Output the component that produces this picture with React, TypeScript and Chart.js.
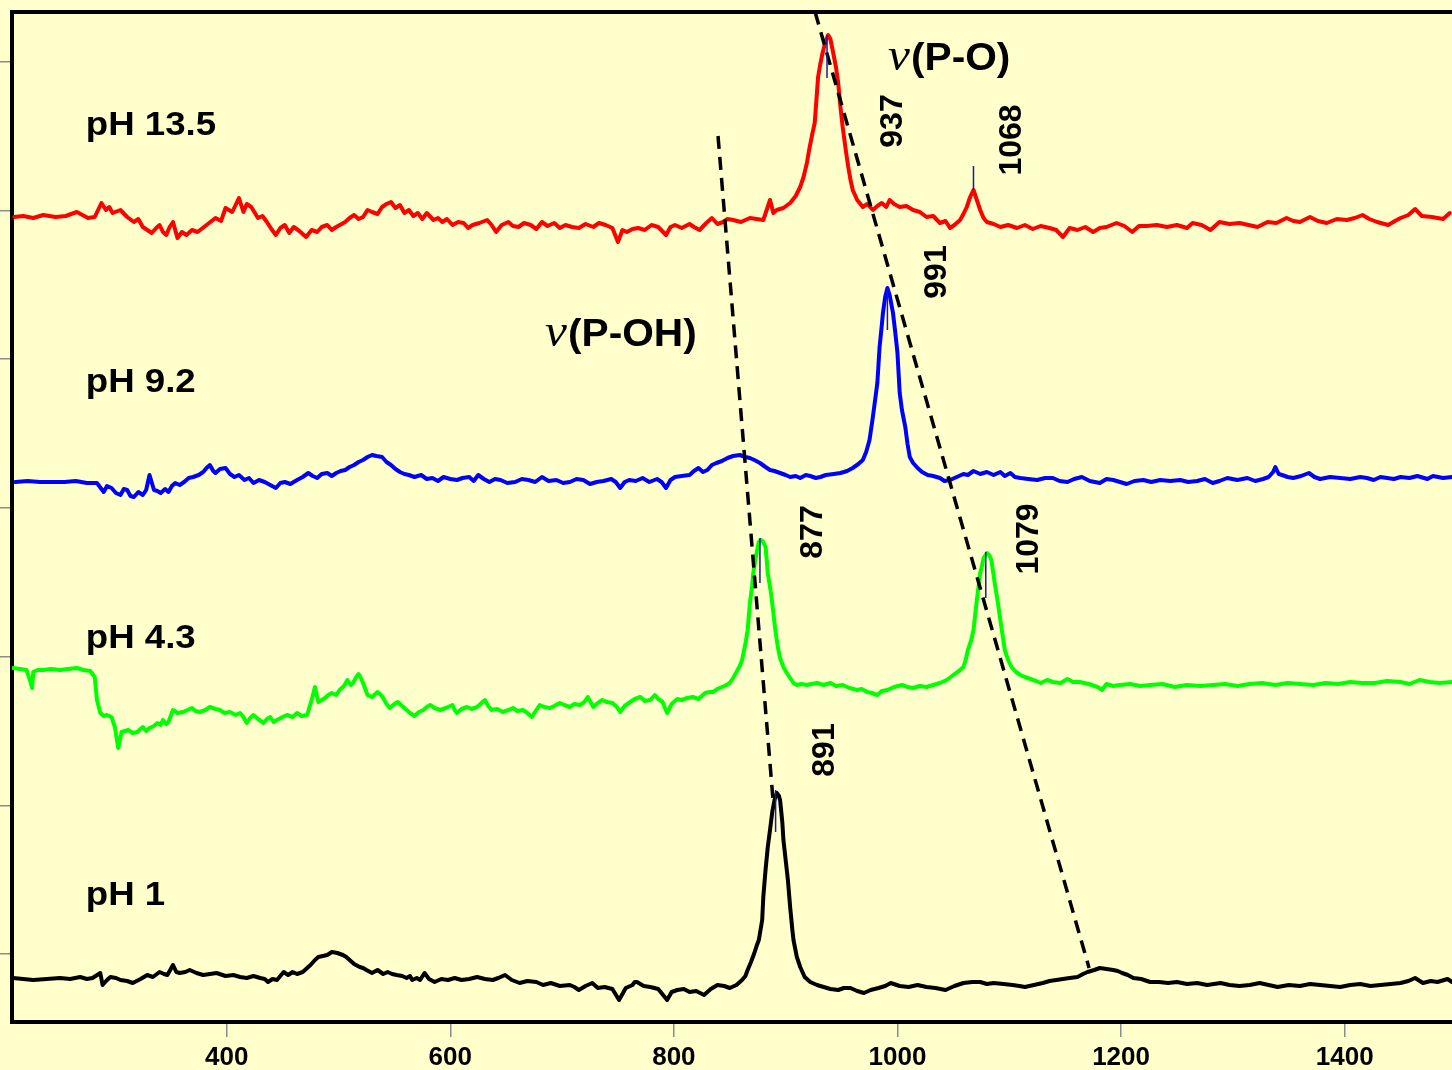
import React, { useEffect, useRef } from "react";
import { Chart, registerables } from "chart.js";

Chart.register(...registerables);

// Raman shift (cm-1) vs. intensity (arbitrary, stacked traces)
const spectrumPH135: [number, number][] = [
  [210,805],[218,806],[227,804],[236,807],[247,805],[256,806],[266,810],[276,804],[282,805],[288,819],[292,812],[295,815],[298,809],[305,812],
  [311,805],[317,800],[321,803],[325,795],[329,792],[333,789],[337,794],[340,797],[343,790],[346,787],[349,795],[352,800],[356,784],[360,790],[364,787],[369,792],[374,790],
  [382,797],[390,804],[395,801],[399,814],[405,810],[411,824],[415,810],[418,818],[422,815],[428,804],[432,806],[436,800],[440,793],[444,787],
  [448,794],[452,797],[456,789],[460,795],[465,791],[471,785],[476,792],[481,790],[485,795],[490,797],[494,792],[498,795],[506,800],[510,804],[514,807],[518,803],[522,805],[526,812],[530,810],
  [535,808],[539,815],[543,818],[547,820],[551,814],[555,817],[559,809],[563,812],[567,806],[571,809],[575,803],[579,809],[585,802],[589,804],[593,800],[597,803],[602,797],[607,800],[612,799],
  [616,794],[620,797],[626,799],[633,802],[637,797],[641,790],[646,797],[652,800],[656,796],[661,795],[666,799],[672,797],[677,793],[682,800],[687,796],[693,799],[698,794],[703,797],[709,795],[715,794],
  [721,798],[728,795],[733,799],[739,797],[745,794],[750,780],[754,792],[758,790],[763,793],[768,794],[774,792],[780,797],[786,795],[793,787],[797,795],[801,797],[807,794],[814,798],[818,795],[823,792],
  [829,799],[834,804],[839,798],[844,800],[848,803],[853,802],[860,800],[868,804],[874,803],[880,802],[886,822],[889,809],[892,812],[898,814],[904,819],[909,826],[913,835],[916,845],[919,859],
  [921,872],[924,889],[926,899],[929,945],[931,958],[933,969],[936,982],[938,987],[940,983],[942,972],[945,955],[947,939],[949,915],[951,895],[954,870],[956,855],[958,842],[960,832],
  [964,822],[969,815],[973,818],[978,812],[982,816],[986,819],[990,815],[993,822],[997,818],[1002,815],[1008,816],[1014,812],[1020,810],[1026,805],[1032,806],[1038,799],[1043,801],[1047,794],[1051,797],[1056,802],
  [1059,808],[1062,815],[1065,825],[1068,832],[1071,822],[1074,812],[1077,804],[1080,800],[1086,798],[1092,795],[1099,797],[1107,794],[1114,797],[1121,793],[1128,796],[1136,794],[1142,792],[1148,785],[1154,794],[1161,792],
  [1168,795],[1175,790],[1181,794],[1187,795],[1196,799],[1203,796],[1210,790],[1216,796],[1223,796],[1232,797],[1241,795],[1250,797],[1259,794],[1264,799],[1272,797],[1280,792],[1288,800],
  [1297,798],[1306,799],[1314,797],[1322,795],[1331,800],[1339,799],[1348,804],[1354,801],[1360,800],[1369,805],[1376,801],[1384,799],[1393,803],[1402,802],[1409,804],[1416,807],[1422,803],[1429,800],
  [1439,797],[1445,801],[1450,804],[1457,807],[1463,813],[1469,806],[1478,805],[1488,803],[1494,809]
];

const spectrumPH92: [number, number][] = [
  [211,540],[222,541],[233,540],[244,540],[255,540],[265,541],[275,539],[284,539],[290,530],[293,536],[297,534],[301,529],[305,527],[308,533],[311,532],[314,526],[317,525],[321,530],[325,527],[328,532],
  [331,547],[335,532],[338,531],[341,529],[345,533],[348,530],[351,536],[354,539],[358,537],[362,540],[366,544],[370,545],[375,547],[379,550],[382,554],[385,557],[388,551],[390,549],
  [394,553],[399,554],[403,548],[407,545],[411,547],[416,542],[420,544],[424,539],[429,542],[434,540],[439,537],[444,534],[448,539],[452,540],[457,538],[463,542],[468,545],[473,549],[477,546],[481,544],
  [485,548],[490,549],[494,546],[498,549],[502,551],[506,552],[510,555],[514,557],[518,560],[522,562],[526,565],[530,567],[534,566],[539,565],[543,560],[547,557],[551,553],[555,550],[559,548],[563,547],
  [568,545],[574,547],[579,543],[584,544],[589,541],[594,545],[600,543],[606,542],[611,544],[617,545],[621,541],[625,547],[630,543],[635,540],[640,543],[645,542],[651,539],[658,540],[664,543],[670,542],
  [676,540],[682,545],[688,541],[695,542],[701,539],[707,540],[713,543],[719,542],[725,538],[731,540],[737,541],[744,543],[748,540],[752,534],[756,540],[760,542],[766,541],[772,544],[778,540],[785,543],
  [789,540],[793,534],[797,542],[801,545],[807,546],[814,547],[818,551],[822,554],[826,550],[830,552],[834,557],[838,559],[843,561],[848,564],[853,566],[859,567],[864,565],[868,564],[872,562],[877,559],
  [882,555],[886,552],[890,551],[895,549],[900,547],[904,545],[909,546],[913,544],[918,547],[922,546],[927,544],[931,545],[936,547],[943,548],[949,549],[955,551],[960,554],[965,558],[969,562],[972,570],[975,582],
  [978,605],[980,622],[982,639],[984,675],[986,697],[987,709],[989,725],[991,734],[993,727],[996,709],[998,690],[1000,669],[1002,629],[1004,612],[1007,595],[1009,578],[1011,565],[1014,559],
  [1018,554],[1022,550],[1027,547],[1032,546],[1038,544],[1042,541],[1047,542],[1053,545],[1059,548],[1063,547],[1068,551],[1074,548],[1080,550],[1086,547],[1092,550],[1096,546],[1101,549],[1105,545],[1110,544],
  [1117,543],[1125,542],[1132,544],[1139,544],[1145,541],[1152,540],[1158,543],[1165,545],[1172,541],[1181,539],[1187,543],[1193,542],[1199,540],[1205,538],[1212,541],[1220,542],[1227,540],[1235,542],[1244,541],[1253,542],
  [1260,540],[1268,541],[1275,543],[1282,539],[1288,541],[1295,544],[1304,542],[1313,544],[1320,541],[1327,543],[1332,545],[1336,550],[1338,555],[1341,548],[1344,547],[1349,545],[1354,544],[1361,546],[1368,549],[1373,545],[1378,543],
  [1387,545],[1396,544],[1405,543],[1414,545],[1420,544],[1426,542],[1432,545],[1438,544],[1444,543],[1450,545],[1458,544],[1465,546],[1474,543],[1479,546],[1488,544],[1496,545]
];

const spectrumPH43: [number, number][] = [
  [209,354],[215,353],[221,352],[224,342],[226,334],[227,350],[231,352],[236,352],[243,353],[251,352],[258,353],[266,354],[272,352],[278,351],[282,345],
  [284,322],[287,309],[290,306],[293,307],[297,305],[300,295],[303,274],[306,290],[309,291],[312,292],[316,289],[320,290],[323,293],[325,295],
  [328,291],[331,294],[335,296],[338,299],[341,297],[343,302],[346,298],[348,300],[352,312],[356,309],[361,310],[365,312],[369,314],[372,311],[376,310],[381,312],[385,315],[390,313],[394,312],
  [398,309],[403,310],[408,307],[412,309],[415,305],[418,299],[421,304],[424,307],[428,303],[433,299],[436,303],[439,305],[442,300],[445,302],[450,305],[454,307],[459,305],[463,309],[467,306],[472,307],
  [476,322],[479,335],[482,320],[485,322],[488,324],[491,327],[494,329],[498,327],[501,332],[505,336],[508,342],[511,337],[513,339],[516,345],[518,348],[520,344],[522,339],
  [524,333],[526,327],[530,325],[535,330],[538,327],[540,324],[543,318],[546,314],[550,318],[553,320],[557,316],[561,312],[564,309],[568,306],[572,310],[576,312],[579,315],[582,317],[586,314],[591,312],
  [596,314],[602,317],[604,312],[606,309],[610,313],[615,315],[619,313],[624,315],[628,319],[631,322],[634,316],[637,312],[642,313],[647,310],[652,312],[656,314],[660,311],[665,312],[669,309],[673,305],
  [677,312],[680,317],[684,315],[689,314],[693,316],[698,319],[702,317],[707,315],[711,318],[716,317],[720,320],[723,325],[726,319],[728,315],[732,319],[736,322],[740,320],[745,319],[749,315],[752,310],
  [756,316],[761,320],[765,323],[770,325],[774,321],[779,322],[783,327],[786,323],[790,320],[792,314],[794,309],[798,318],[803,323],[807,322],[812,324],[817,325],[822,323],[825,326],[828,329],
  [832,330],[835,330],[839,333],[843,335],[847,337],[850,339],[853,344],[856,350],[859,356],[861,362],[864,378],[866,392],[868,419],[870,436],[871,449],[873,463],[875,475],[876,480],[878,482],
  [880,480],[882,475],[883,463],[884,449],[887,428],[889,409],[891,390],[893,375],[895,364],[898,355],[901,349],[904,344],[907,339],[910,337],[914,338],[919,337],[923,338],[928,339],[934,337],[940,339],
  [945,336],[951,337],[957,334],[964,332],[968,333],[973,330],[977,329],[982,327],[986,331],[991,332],[997,335],[1004,337],[1009,335],[1014,334],[1020,336],[1026,335],[1032,337],[1038,339],[1044,342],[1050,347],
  [1055,351],[1059,355],[1061,362],[1063,372],[1066,382],[1068,392],[1071,422],[1074,449],[1076,458],[1077,464],[1080,469],[1082,467],[1084,462],[1087,439],[1090,418],[1092,402],
  [1096,372],[1099,362],[1102,355],[1106,350],[1110,347],[1114,345],[1119,343],[1124,341],[1128,339],[1134,342],[1139,340],[1146,339],[1152,343],[1157,340],[1163,340],[1171,338],[1179,335],[1183,332],
  [1187,338],[1193,336],[1199,337],[1208,338],[1217,336],[1226,337],[1237,338],[1248,335],[1259,337],[1271,336],[1282,337],[1293,338],[1304,336],[1315,338],[1326,339],[1338,337],[1349,339],[1360,338],[1372,337],[1383,339],[1394,338],[1405,340],
  [1416,339],[1427,339],[1438,341],[1450,340],[1458,338],[1467,342],[1476,340],[1485,339],[1496,340]
];

const spectrumPH1: [number, number][] = [
  [209,44],[218,43],[227,42],[239,43],[251,44],[260,43],[269,45],[275,43],[280,44],[287,49],[289,37],[293,42],[296,45],[301,44],[305,42],[311,41],[316,39],[323,43],
  [329,47],[334,45],[340,50],[344,48],[347,47],[352,57],[355,50],[358,49],[363,50],[367,52],[373,49],[379,47],[385,48],[391,49],[399,46],[406,47],[412,45],[418,44],
  [424,46],[430,44],[434,43],[437,40],[441,43],[445,42],[451,50],[455,47],[459,50],[463,48],[468,50],[472,54],[475,57],[479,62],[482,65],[486,66],[490,67],[494,70],[499,69],
  [504,67],[507,65],[510,62],[514,58],[519,55],[522,54],[525,52],[530,49],[535,52],[540,48],[544,50],[548,48],[552,47],[557,46],[561,44],[564,46],[566,42],[570,44],[573,42],
  [577,49],[581,43],[586,40],[592,43],[598,42],[604,44],[610,42],[617,43],[624,45],[631,43],[638,42],[643,44],[649,47],[655,42],[662,39],[669,41],[677,40],[683,37],[690,39],
  [698,36],[707,37],[711,35],[715,32],[721,36],[727,39],[732,34],[738,35],[745,33],[751,22],[757,34],[763,37],[765,40],[767,40],[773,36],[779,35],[786,33],[794,22],[798,30],[803,32],
  [809,33],[814,30],[820,31],[827,27],[833,33],[839,37],[845,36],[850,34],[856,37],[861,42],[864,46],[866,52],[869,60],[872,69],[874,76],[876,82],[879,102],[880,125],[882,152],
  [884,175],[886,192],[888,210],[890,222],[892,229],[894,226],[895,222],[897,200],[898,182],[900,162],[902,142],[904,115],[906,92],[907,82],[910,65],[913,55],[917,45],[922,40],
  [928,37],[934,35],[940,33],[947,32],[952,34],[958,34],[964,31],[970,29],[976,32],[983,34],[989,36],[994,39],[1002,36],[1010,35],[1018,37],[1026,35],[1034,34],[1043,32],[1051,36],[1059,39],
  [1067,40],[1074,40],[1080,38],[1086,39],[1095,38],[1103,37],[1109,36],[1114,35],[1122,37],[1130,39],[1136,41],[1142,42],[1148,43],[1154,44],[1161,45],[1166,48],[1170,50],[1176,52],[1181,54],
  [1187,53],[1193,52],[1197,51],[1201,49],[1206,47],[1211,44],[1218,43],[1226,40],[1234,40],[1242,39],[1250,40],[1259,38],[1268,39],[1277,37],[1283,38],[1289,39],[1297,37],[1306,36],[1315,37],[1324,39],
  [1332,37],[1340,35],[1350,37],[1360,36],[1369,38],[1378,37],[1387,36],[1396,35],[1405,37],[1414,38],[1423,36],[1432,37],[1441,38],[1450,39],[1457,41],[1463,44],[1470,39],[1477,41],[1483,40],
  [1492,43],[1496,40]
];

// peak marker ticks: wavenumber, top, bottom
const peakMarkWn = [937, 1068, 991, 877, 1079, 891];
const peakMarkTop = [987, 856, 734, 484, 470, 232];
const peakMarkBottom = [944, 832, 692, 439, 424, 190];

// dashed guide lines (endpoints)
const guidePOH: [number, number][] = [[839.5, 886], [888.7, 222]];
const guidePO: [number, number][] = [[926.3, 1010], [1171.4, 54]];

// text labels
const phLabels = ["pH 13.5", "pH 9.2", "pH 4.3", "pH 1"];
const phLabelWn = 274;
const phLabelY = [887, 630.5, 374, 117.5];
const bandLabels = ["(P-O)", "(P-OH)"];
const bandLabelWn = [991.6, 684.8];
const bandLabelY = [952, 676];
const peakLabels = ["937", "1068", "991", "877", "1079", "891"];
const peakLabelWn = [996.5, 1102.5, 1035.4, 924.5, 1117.7, 935.2];
const peakLabelY = [901, 882, 750, 490, 483, 272];

// axes
const xMin = 208;
const xMax = 1496;
const xTicks = [400, 600, 800, 1000, 1200, 1400];
const yMin = 0;
const yMax = 1010;
const yTicks = [68, 216.5, 365, 514, 663, 811.5, 960];

const SANS = '"Liberation Sans", Arial, Helvetica, sans-serif';
const SERIF = '"Liberation Serif", "Times New Roman", serif';

const toPts = (arr: [number, number][]) => arr.map(([x, y]) => ({ x, y }));

const frameAndTextPlugin = {
  id: "frameAndText",
  afterDatasetsDraw(chart: any) {
    const { ctx, chartArea, scales } = chart;
    const xs = scales.x;
    const ys = scales.y;
    ctx.save();
    // top frame line
    ctx.strokeStyle = "#000";
    ctx.lineWidth = 4;
    ctx.beginPath();
    ctx.moveTo(chartArea.left - 2, chartArea.top);
    ctx.lineTo(chartArea.right, chartArea.top);
    ctx.stroke();

    ctx.fillStyle = "#000";
    ctx.textAlign = "left";
    ctx.textBaseline = "alphabetic";
    // pH labels
    ctx.font = `bold 33px ${SANS}`;
    phLabels.forEach((t, i) => {
      ctx.save();
      ctx.translate(xs.getPixelForValue(phLabelWn), ys.getPixelForValue(phLabelY[i]));
      ctx.scale(1.11, 1);
      ctx.fillText(t, 0, 0);
      ctx.restore();
    });
    // band labels: ν(P-O), ν(P-OH)
    bandLabels.forEach((t, i) => {
      ctx.save();
      ctx.translate(xs.getPixelForValue(bandLabelWn[i]), ys.getPixelForValue(bandLabelY[i]));
      ctx.scale(1.07, 1);
      ctx.font = `italic 46px ${SERIF}`;
      ctx.fillText("ν", 0, 0);
      const w = ctx.measureText("ν").width + 1;
      ctx.font = `bold 38px ${SANS}`;
      ctx.fillText(t, w, 0);
      ctx.restore();
    });
    // rotated peak labels
    ctx.font = `bold 32px ${SANS}`;
    ctx.textAlign = "center";
    ctx.textBaseline = "middle";
    peakLabels.forEach((t, i) => {
      ctx.save();
      ctx.translate(xs.getPixelForValue(peakLabelWn[i]), ys.getPixelForValue(peakLabelY[i]));
      ctx.rotate(-Math.PI / 2);
      ctx.fillText(t, 0, 0);
      ctx.restore();
    });
    ctx.restore();
  },
};

export default function App() {
  const canvasRef = useRef<HTMLCanvasElement | null>(null);

  useEffect(() => {
    if (!canvasRef.current) return;
    const markerSets = peakMarkWn.map((wn, i) => ({
      label: `mark${i}`,
      data: [
        { x: wn, y: peakMarkTop[i] },
        { x: wn, y: peakMarkBottom[i] },
      ],
      borderColor: "#1a1aa0",
      borderWidth: 1.5,
      pointRadius: 0,
    }));
    const seriesStyle = (color: string) => ({
      borderColor: color,
      borderWidth: 4,
      pointRadius: 0,
      borderJoinStyle: "round" as const,
      borderCapStyle: "round" as const,
    });
    const chart = new Chart(canvasRef.current, {
      type: "line",
      data: {
        datasets: [
          ...markerSets,
          {
            label: "guide P-OH",
            data: toPts(guidePOH),
            borderColor: "#000",
            borderWidth: 3.5,
            borderDash: [13, 8],
            pointRadius: 0,
          },
          {
            label: "guide P-O",
            data: toPts(guidePO),
            borderColor: "#000",
            borderWidth: 3.5,
            borderDash: [13, 8],
            pointRadius: 0,
          },
          { label: "pH 13.5", data: toPts(spectrumPH135), ...seriesStyle("#ff0000") },
          { label: "pH 9.2", data: toPts(spectrumPH92), ...seriesStyle("#0000ff") },
          { label: "pH 4.3", data: toPts(spectrumPH43), ...seriesStyle("#00ff00") },
          { label: "pH 1", data: toPts(spectrumPH1), ...seriesStyle("#000000") },
        ],
      },
      options: {
        animation: false,
        responsive: false,
        maintainAspectRatio: false,
        parsing: false,
        layout: { padding: { top: 12, left: 0, right: 0, bottom: 0 } },
        plugins: { legend: { display: false }, tooltip: { enabled: false } },
        elements: { line: { tension: 0 }, point: { radius: 0 } },
        scales: {
          x: {
            type: "linear",
            min: xMin,
            max: xMax,
            afterBuildTicks: (s: any) => {
              s.ticks = xTicks.map((v) => ({ value: v }));
            },
            afterFit: (s: any) => {
              s.height = 48;
            },
            grid: {
              drawOnChartArea: false,
              drawTicks: true,
              tickLength: 15,
              color: "#8c8c8c",
              lineWidth: 1.5,
            },
            border: { color: "#000", width: 4 },
            ticks: {
              color: "#000",
              padding: 5,
              maxRotation: 0,
              autoSkip: false,
              font: { family: SANS, size: 26, weight: "bold" },
              callback: (v: any) => String(v),
            },
          },
          y: {
            type: "linear",
            min: yMin,
            max: yMax,
            afterBuildTicks: (s: any) => {
              s.ticks = yTicks.map((v) => ({ value: v }));
            },
            afterFit: (s: any) => {
              s.width = 12;
            },
            grid: {
              drawOnChartArea: false,
              drawTicks: true,
              tickLength: 12,
              color: "#8c8c8c",
              lineWidth: 1.5,
            },
            border: { color: "#000", width: 4 },
            ticks: { display: false },
          },
        },
      },
      plugins: [frameAndTextPlugin],
    } as any);
    return () => chart.destroy();
  }, []);

  return (
    <div
      style={{
        position: "fixed",
        left: 0,
        top: 0,
        width: 1452,
        height: 1070,
        background: "#FFFFCC",
        overflow: "hidden",
      }}
    >
      <canvas ref={canvasRef} width={1452} height={1070} style={{ display: "block", width: 1452, height: 1070 }} />
    </div>
  );
}
